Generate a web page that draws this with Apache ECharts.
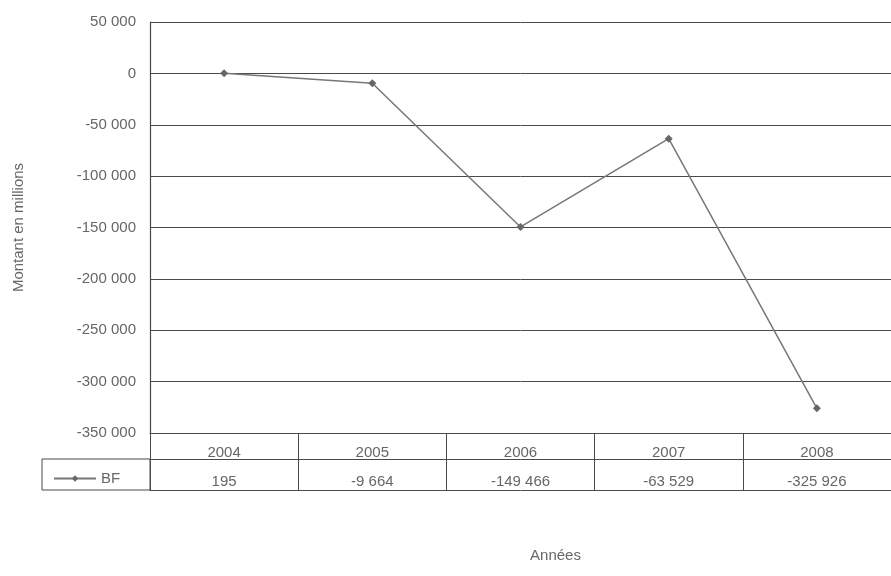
<!DOCTYPE html>
<html>
<head>
<meta charset="utf-8">
<script src="https://cdn.jsdelivr.net/npm/echarts@6/dist/echarts.min.js"></script>
<style>
  html, body { margin: 0; padding: 0; background: #fff; }
  #chart { width: 891px; height: 576px; }
</style>
</head>
<body>
<div id="chart"></div>
<script>
// data
const years = ['2004', '2005', '2006', '2007', '2008']
const bfValues = [195, -9664, -149466, -63529, -325926]
const seriesName = 'BF'

const fmt = v => {
  const s = Math.abs(v).toString().replace(/\B(?=(\d{3})+(?!\d))/g, ' ')
  return (v < 0 ? '-' : '') + s
}

const ink = '#4a4a4a'
const textCol = '#666'
const chart = echarts.init(document.getElementById('chart'))

// table rows are drawn with stacked x axes under the grid
const blankAxis = (offset, extra) => Object.assign({
  type: 'category',
  data: years,
  gridIndex: 0,
  position: 'bottom',
  offset: offset,
  axisLine: { show: true, onZero: false, lineStyle: { color: ink, width: 1 } },
  axisTick: { show: false },
  axisLabel: { show: false },
  splitLine: { show: false }
}, extra || {})

chart.setOption({
  backgroundColor: '#fff',
  animation: false,
  textStyle: { fontFamily: 'Liberation Sans, Arial, sans-serif' },
  grid: { left: 150, right: 0, top: 22, bottom: 143 },
  legend: {
    data: [seriesName],
    left: 48,
    top: 466,
    itemWidth: 42,
    itemHeight: 8,
    textStyle: { color: textCol, fontSize: 15 }
  },
  xAxis: [
    {
      type: 'category',
      data: years,
      boundaryGap: true,
      axisLine: { show: true, onZero: false, lineStyle: { color: ink, width: 1 } },
      axisTick: { show: true, length: 57, lineStyle: { color: ink } },
      axisLabel: {
        margin: 6,
        formatter: (val, idx) => '{y|' + val + '}\n{v|' + fmt(bfValues[idx]) + '}',
        rich: {
          y: { color: textCol, fontSize: 15, lineHeight: 28 },
          v: { color: textCol, fontSize: 15, lineHeight: 30 }
        }
      },
      splitLine: { show: false }
    },
    blankAxis(26),
    blankAxis(57, {
      name: 'Années',
      nameLocation: 'middle',
      nameGap: 58,
      nameTextStyle: { color: textCol, fontSize: 15, padding: [0, 0, 0, 70] }
    })
  ],
  yAxis: {
    type: 'value',
    min: -350000,
    max: 50000,
    interval: 50000,
    name: 'Montant en millions',
    nameLocation: 'middle',
    nameGap: 124,
    nameTextStyle: { color: textCol, fontSize: 15 },
    axisLine: { show: true, lineStyle: { color: ink, width: 1.2 } },
    axisTick: { show: false },
    axisLabel: { color: textCol, fontSize: 15, margin: 14, formatter: fmt },
    splitLine: { show: true, lineStyle: { color: ink, width: 1 } }
  },
  series: [
    {
      name: seriesName,
      type: 'line',
      data: bfValues,
      symbol: 'diamond',
      symbolSize: 8,
      lineStyle: { color: '#777', width: 1.5 },
      itemStyle: { color: '#666' }
    }
  ],
  graphic: [
    {
      type: 'rect',
      shape: { x: 42, y: 459, width: 108, height: 31 },
      style: { fill: 'none', stroke: ink, lineWidth: 1 }
    }
  ]
})
</script>
</body>
</html>
